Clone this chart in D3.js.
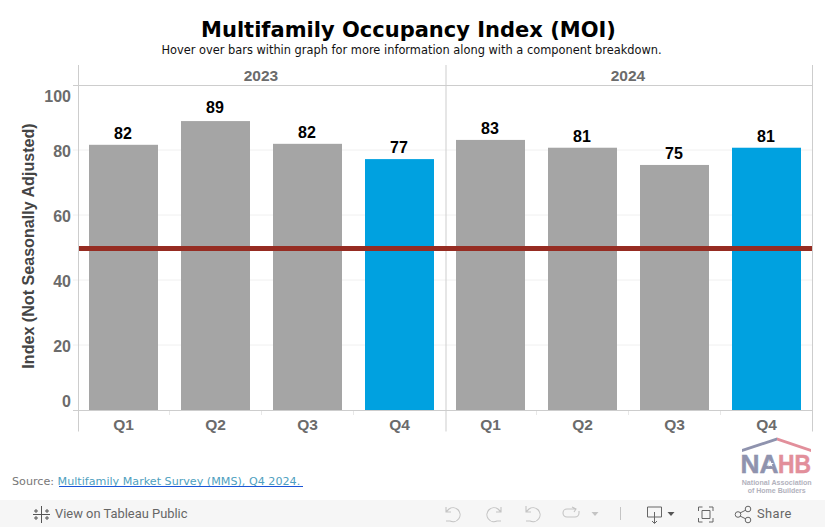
<!DOCTYPE html>
<html><head><meta charset="utf-8">
<script src="https://cdnjs.cloudflare.com/ajax/libs/d3/7.8.5/d3.min.js"></script>
<style>html,body{margin:0;padding:0;background:#fff;overflow:hidden}svg{display:block}</style>
</head><body><svg id="c" width="825" height="527"></svg>
<script>
const years=["2023","2024"];
const quarters=["Q1","Q2","Q3","Q4"];
const values2023=[81.6,88.9,81.9,77.2];
const values2024=[83.1,80.7,75.4,80.7];
const labels2023=["82","89","82","77"];
const labels2024=["83","81","75","81"];
const yTicks=[0,20,40,60,80,100];
const refValue=50;
const title="Multifamily Occupancy Index (MOI)";
const subtitle="Hover over bars within graph for more information along with a component breakdown.";
const yTitle="Index (Not Seasonally Adjusted)";

const svg=d3.select("#c");
const sans="'Liberation Sans',Arial,sans-serif", dj="'DejaVu Sans',sans-serif";
const y=d3.scaleLinear().domain([0,100]).range([410,85]);
const panel=d3.scaleBand().domain(years).range([77.5,811.5]);
const qx=d3.scaleBand().domain(quarters).range([0,368]).paddingInner(0.25).paddingOuter(0.125);
const seriesVals={"2023":values2023,"2024":values2024}, seriesLbl={"2023":labels2023,"2024":labels2024};

svg.append("text").attr("x",408.5).attr("y",37).attr("text-anchor","middle")
 .style("font",`bold 21px ${dj}`).attr("fill","#000").text(title);
svg.append("text").attr("x",411.5).attr("y",54).attr("text-anchor","middle")
 .style("font",`11.4px ${dj}`).attr("fill","#111").text(subtitle);

// gridlines
svg.append("g").selectAll("line").data(yTicks.filter(d=>d>0&&d<100)).join("line")
 .attr("x1",73).attr("x2",812).attr("y1",d=>y(d)).attr("y2",d=>y(d)).attr("stroke","#f0f0f0");

// y axis labels via d3.axisLeft
const yAxis=d3.axisLeft(y).tickValues(yTicks).tickSize(0).tickPadding(0);
const gy=svg.append("g").attr("transform","translate(71,0)").call(yAxis);
gy.select(".domain").remove();
gy.selectAll("text").style("font",`bold 16px ${sans}`).attr("fill","#6b6b6b")
 .attr("dy",d=>d===100?"1em":d===0?"-0.2em":"0.42em");

svg.append("text").attr("transform","translate(34,246) rotate(-90)").attr("text-anchor","middle")
 .style("font",`bold 16.1px ${sans}`).attr("fill","#444").text(yTitle);

// bars
years.forEach(yr=>{
 const g=svg.append("g").attr("transform",`translate(${panel(yr)},0)`);
 g.selectAll("rect").data(quarters).join("rect")
  .attr("x",q=>qx(q)).attr("width",qx.bandwidth())
  .attr("y",(q,i)=>y(seriesVals[yr][i])).attr("height",(q,i)=>y(0)-y(seriesVals[yr][i]))
  .attr("fill",q=>q==="Q4"?"#00a1e0":"#a5a5a5");
 g.selectAll("text.v").data(quarters).join("text").attr("class","v")
  .attr("x",q=>qx(q)+qx.bandwidth()/2-0.5)
  .attr("y",(q,i)=>y(seriesVals[yr][i])-(seriesVals[yr][i]>85?8:5.7))
  .attr("text-anchor","middle").style("font",`bold 16px ${sans}`).attr("fill","#000")
  .text((q,i)=>seriesLbl[yr][i]);
 g.selectAll("text.q").data(quarters).join("text").attr("class","q")
  .attr("x",q=>qx(q)+qx.bandwidth()/2).attr("y",430)
  .attr("text-anchor","middle").style("font",`bold 15.5px ${sans}`).attr("fill","#6b6b6b").text(q=>q);
 g.selectAll("line.t").data(quarters.slice(1)).join("line").attr("class","t")
  .attr("x1",q=>qx(q)-qx.step()*0.125).attr("x2",q=>qx(q)-qx.step()*0.125).attr("y1",410).attr("y2",415).attr("stroke","#e8e8e8");
 svg.append("text").attr("x",panel(yr)+panel.bandwidth()/2).attr("y",81).attr("text-anchor","middle")
  .style("font",`bold 15.5px ${sans}`).attr("fill","#6b6b6b").text(yr);
});

// frame lines
const frame="#cdcdcd";
[[78.5,65,78.5,431.5],[446,65,446,431.5],[812.5,65,812.5,431.5],[73,85.5,812.5,85.5],[73,410.5,812.5,410.5]].forEach(l=>
 svg.append("line").attr("x1",l[0]).attr("y1",l[1]).attr("x2",l[2]).attr("y2",l[3]).attr("stroke",frame));

// reference line
svg.append("line").attr("x1",79).attr("x2",812).attr("y1",y(refValue)+1).attr("y2",y(refValue)+1)
 .attr("stroke","#962c22").attr("stroke-width",5);

// source
const src=svg.append("text").attr("x",12).attr("y",485).style("font",`11.15px ${dj}`).attr("fill","#777");
src.append("tspan").text("Source: ");
src.append("tspan").attr("fill","#4f9fc0").text("Multifamily Market Survey (MMS), Q4 2024.");
svg.append("line").attr("x1",59).attr("x2",303).attr("y1",486.5).attr("y2",486.5).attr("stroke","#1a55d8");

// logo
const lg=svg.append("g");
lg.append("path").attr("d","M742 449L777 437.5L777 440.5L742 452Z").attr("fill","#8f93ae");
lg.append("path").attr("d","M777 437.5L811 449L811 452L777 440.5Z").attr("fill","#e28f9b");
lg.append("text").attr("x",740.5).attr("y",473).style("font",`bold 26px ${sans}`).attr("textLength",38).attr("lengthAdjust","spacingAndGlyphs").attr("fill","#8f93ae").attr("stroke","#8f93ae").attr("stroke-width",0.5).text("NA");
lg.append("text").attr("x",778).attr("y",473).style("font",`bold 26px ${sans}`).attr("textLength",33).attr("lengthAdjust","spacingAndGlyphs").attr("fill","#e28f9b").attr("stroke","#e28f9b").attr("stroke-width",0.5).text("HB");
lg.append("path").attr("transform","translate(770.5,464)").attr("d",d3.symbol(d3.symbolStar,14)()).attr("fill","#fff");
lg.append("text").attr("x",741.7).attr("y",484.5).attr("textLength",70).attr("lengthAdjust","spacingAndGlyphs").style("font",`bold 6.5px ${sans}`).attr("fill","#b2b2bd").text("National Association");
lg.append("text").attr("x",747.7).attr("y",492.5).attr("textLength",58).attr("lengthAdjust","spacingAndGlyphs").style("font",`bold 6.5px ${sans}`).attr("fill","#b2b2bd").text("of Home Builders");

// toolbar
const bar=svg.append("g");
bar.append("rect").attr("x",0).attr("y",500).attr("width",825).attr("height",27).attr("fill","#f6f6f6");
const ic="#666", dis="#c4c4c4";
const tb=bar.append("g").attr("fill","none").attr("stroke",ic);
tb.append("path").attr("d","M41.5 506v6M41.5 517v6M33 514.5h6M44 514.5h6M36 509v4M34 511h4M47 509v4M45 511h4M36 516v4M34 518h4M47 516v4M45 518h4M41.5 511v7M38 514.5h7").attr("stroke-width",1).attr("stroke","#555");
bar.append("text").attr("x",55).attr("y",518).style("font",`12.9px Roboto,sans-serif`).attr("fill","#666").text("View on Tableau Public");
const t2=bar.append("g").attr("fill","none").attr("stroke",dis).attr("stroke-width",1.1);
t2.append("path").attr("d","M446 507v5h5M446 512l3-3a7 7 0 1 1 1 12h-4");
t2.append("path").attr("d","M501 507v5h-5M501 512l-3-3a7 7 0 1 0 -1 12h4");
t2.append("path").attr("d","M526 506v6M526 507v5h5M526 512l3-3a7 7 0 1 1 1 12h-4");
t2.append("path").attr("d","M576 509h-9a4 4 0 0 0 0 8h8a4 4 0 0 0 4-4v-2M572 507l4 2-2 3");
bar.append("path").attr("d","M591.5 512h7l-3.5 4Z").attr("fill",dis);
bar.append("line").attr("x1",620.5).attr("x2",620.5).attr("y1",507).attr("y2",520).attr("stroke",dis);
tb.append("path").attr("d","M654 517h-6.5v-10h14v10H655M654.5 512v11M652 521l2.5 2.5 2.5-2.5");
bar.append("path").attr("d","M667.5 512h7l-3.5 4Z").attr("fill","#555");
tb.append("path").attr("d","M698.5 511v-4h4M709 507h4v4M698.5 518v4h4M709 522h4v-4M702 510.5h8v8h-8Z");
tb.append("path").attr("d","M740 513l6-3M740 516l6 3");
tb.selectAll("circle").data([[738,514.5],[748,509],[748,520]]).join("circle")
 .attr("cx",d=>d[0]).attr("cy",d=>d[1]).attr("r",2.8);
bar.append("text").attr("x",757).attr("y",518).style("font",`12.9px Roboto,sans-serif`).style("letter-spacing","0.4px").attr("fill","#666").text("Share");
</script></body></html>
